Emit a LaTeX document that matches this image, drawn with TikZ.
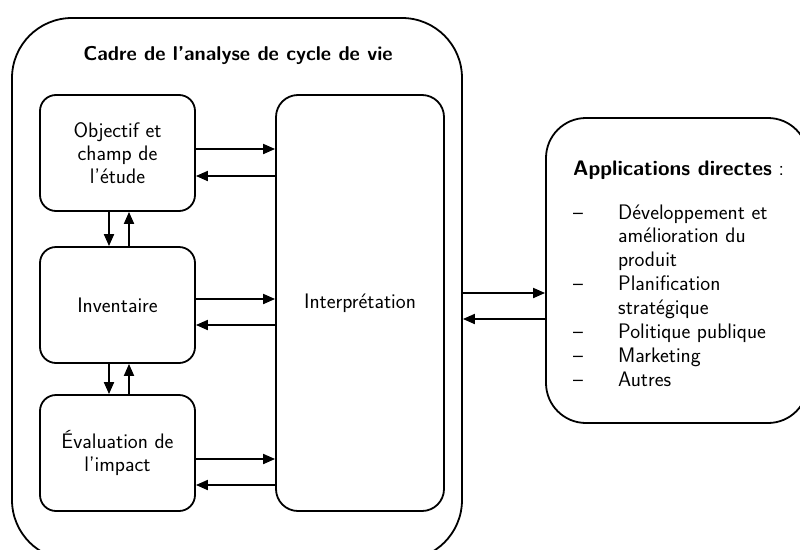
\documentclass[tikz,border=0pt]{standalone}
\usetikzlibrary{arrows.meta,calc}
\begin{document}
\begin{tikzpicture}[x=1pt,y=-1pt,
  font=\sffamily\fontsize{21}{23}\selectfont,
  box/.style={draw, line width=1.8pt, rounded corners=16pt, minimum width=155pt, minimum height=116pt, align=center, inner sep=0pt},
  arr/.style={line width=1.8pt, -{Triangle[length=12pt,width=10pt]}}]
\useasboundingbox (0,0) rectangle (800,549);
\node[draw, line width=1.8pt, rounded corners=60pt, minimum width=450pt, minimum height=542pt, inner sep=0pt] (frame) at (237,289) {};
\node[font=\sffamily\bfseries\fontsize{20}{23}\selectfont, anchor=base] (title) at (238,60) {Cadre de l’analyse de cycle de vie};
\node[box] (obj) at (117.5,153) {Objectif et\\champ de\\l'étude};
\node[box] (inv) at (117.5,305) {Inventaire};
\node[box] (eva) at (117.5,453) {Évaluation de\\l'impact};
\node[box, rounded corners=22pt, minimum width=168pt, minimum height=416pt] (int) at (360,303) {Interprétation};
\node[box, rounded corners=40pt, minimum width=262pt, minimum height=305pt] (app) at (677,270.5) {};
\node[anchor=base west, inner sep=0pt] (apptitle) at (573,175) {\textbf{Applications directes} :};
\node[anchor=base west, inner sep=0pt, font=\sffamily\fontsize{21}{23.86}\selectfont] (applist) at (573,219) {%
\begin{tabular}[t]{@{}p{45pt}@{}l@{}}
– & Développement et\\
  & amélioration du\\
  & produit\\
– & Planification\\
  & stratégique\\
– & Politique publique\\
– & Marketing\\
– & Autres
\end{tabular}};
\coordinate (ya) at (0,149);
\coordinate (yb) at (0,176);
\coordinate (yc) at (0,299);
\coordinate (yd) at (0,325);
\coordinate (ye) at (0,459);
\coordinate (yf) at (0,485);
\coordinate (yg) at (0,293);
\coordinate (yh) at (0,319);
\coordinate (xa) at (109,0);
\coordinate (xb) at (129,0);
\draw[arr] (obj.east |- ya) -- (int.west |- ya);
\draw[arr] (int.west |- yb) -- (obj.east |- yb);
\draw[arr] (inv.east |- yc) -- (int.west |- yc);
\draw[arr] (int.west |- yd) -- (inv.east |- yd);
\draw[arr] (eva.east |- ye) -- (int.west |- ye);
\draw[arr] (int.west |- yf) -- (eva.east |- yf);
\draw[arr] (obj.south -| xa) -- (inv.north -| xa);
\draw[arr] (inv.north -| xb) -- (obj.south -| xb);
\draw[arr] (inv.south -| xa) -- (eva.north -| xa);
\draw[arr] (eva.north -| xb) -- (inv.south -| xb);
\draw[arr] (frame.east |- yg) -- (app.west |- yg);
\draw[arr] (app.west |- yh) -- (frame.east |- yh);
\end{tikzpicture}
\end{document}
